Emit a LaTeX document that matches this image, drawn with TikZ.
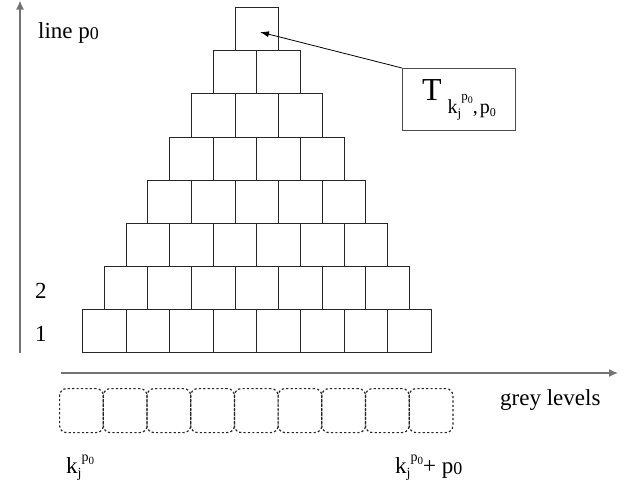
\documentclass[tikz,border=0pt]{standalone}
\usepackage{fontspec}
\setmainfont{Liberation Serif}
\usetikzlibrary{arrows.meta}
\newcommand\subzero[2]{\raisebox{-#2}{\fontsize{#1}{#1}\selectfont 0}}
\newcommand\kjlab[4]{k\raisebox{-#3}{\fontsize{#1}{#1}\selectfont j}\raisebox{#4}{\fontsize{#1}{#1}\selectfont p\raisebox{-0.25em}{\fontsize{#2}{#2}\selectfont 0}}}
\begin{document}
\begin{tikzpicture}[x=1pt,y=-1pt,
  cell/.style={draw=black!85, line width=0.9pt, minimum width=43.6pt, minimum height=43.1pt, inner sep=0pt, anchor=north west},
  slot/.style={draw=black!85, line width=1.2pt, dash pattern=on 2.2pt off 2.2pt, rounded corners=7pt, minimum width=43.7pt, minimum height=44pt, inner sep=0pt, anchor=north west},
  axis/.style={draw=black!55, line width=1.3pt, -{Latex[length=9pt,width=8pt]}},
  lbl/.style={inner sep=0pt, anchor=base west, font=\fontsize{23}{27}\selectfont}]
\useasboundingbox (0,0) rectangle (636,493);
\foreach \r in {1,...,8}{
  \pgfmathtruncatemacro\n{9-\r}
  \foreach \c in {1,...,\n}{
    \node[cell] (b-\r-\c) at ({82+(\r-1)*21.8+(\c-1)*43.6},{352-\r*43.1}) {};
  }
}
\foreach \c in {1,...,9}{
  \node[slot] (s-\c) at ({59+(\c-1)*43.7},388) {};
}
\coordinate (yo) at (20,353);
\coordinate (yt) at (20,0.5);
\draw[axis] (yo) -- (yt);
\coordinate (xo) at (61,373);
\coordinate (xt) at (618,373);
\draw[axis] (xo) -- (xt);
\node[lbl] (lp) at (38,38) {line p\subzero{18}{1.5pt}};
\node[lbl] (two) at (35,298) {2};
\node[lbl] (one) at (35,341) {1};
\node[lbl] (gl) at (500,405) {grey levels};
\node[lbl] (k0) at (66,473) {\kjlab{14}{11}{4pt}{12pt}};
\node[lbl] (k1) at (395,473) {\kjlab{14}{11}{4pt}{12pt}+ p\subzero{18}{1.5pt}};
\node[draw=black!70, line width=1pt, minimum width=113pt, minimum height=62pt, anchor=north west, inner sep=0pt] (tb) at (402,68)
  {{\fontsize{32}{36}\selectfont T}\hspace{6pt}\raisebox{-13pt}{\fontsize{20}{22}\selectfont\kjlab{13}{10}{4pt}{13pt},\hspace{2pt}p\raisebox{-3pt}{\fontsize{12}{12}\selectfont 0}}};
\coordinate (tip) at (260,32);
\draw[line width=0.8pt, -{Latex[length=9pt,width=6pt]}] (tb.north west) -- (tip);
\end{tikzpicture}
\end{document}
